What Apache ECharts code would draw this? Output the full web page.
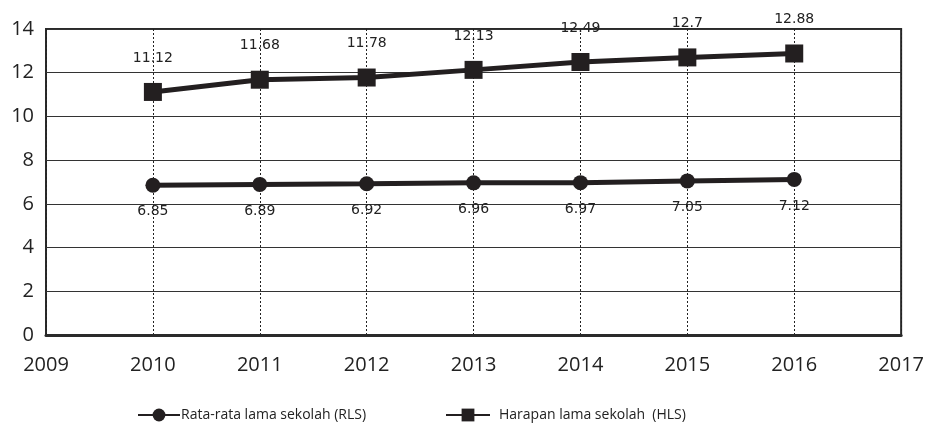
<!DOCTYPE html>
<html><head><meta charset="utf-8">
<script src="https://cdn.jsdelivr.net/npm/echarts@6/dist/echarts.min.js"></script>
<style>html,body{margin:0;padding:0;background:#fff}#c{width:927px;height:434px}</style>
</head><body><div id="c"></div>
<script>
const years = [2010, 2011, 2012, 2013, 2014, 2015, 2016];
const rls = [6.85, 6.89, 6.92, 6.96, 6.97, 7.05, 7.12];
const hls = [11.12, 11.68, 11.78, 12.13, 12.49, 12.7, 12.88];
const rlsName = 'Rata-rata lama sekolah (RLS)';
const hlsName = 'Harapan lama sekolah  (HLS)';

const chart = echarts.init(document.getElementById('c'));
chart.setOption({
  backgroundColor: '#fff',
  animation: false,
  grid: {left: 46, right: 22, top: 29, bottom: 99, show: true, borderColor: '#2a2a2a', borderWidth: 2},
  xAxis: {
    type: 'value', min: 2009, max: 2017, interval: 1,
    axisLine: {show: true, lineStyle: {color: '#2a2a2a', width: 3}},
    axisTick: {show: false},
    axisLabel: {fontFamily: 'Open Sans', fontSize: 20, color: '#222', margin: 20, formatter: v => String(v)},
    splitLine: {show: true, lineStyle: {color: '#222', type: [2, 2], width: 1}}
  },
  yAxis: {
    type: 'value', min: 0, max: 14, interval: 2,
    axisLine: {show: false}, axisTick: {show: false},
    axisLabel: {fontFamily: 'Open Sans', fontSize: 20, color: '#222', margin: 12},
    splitLine: {show: true, lineStyle: {color: '#333', width: 1.2}}
  },
  legend: [
    {left: 132, top: 403, itemWidth: 42, itemHeight: 16, itemGap: 0,
     textStyle: {fontFamily: 'Open Sans', fontSize: 14, color: '#222', padding: [0,0,0,-4]},
     data: [rlsName]},
    {left: 440, top: 403, itemWidth: 44, itemHeight: 16, itemGap: 0,
     textStyle: {fontFamily: 'Open Sans', fontSize: 14, color: '#222', padding: [0,0,0,4]},
     data: [hlsName]}
  ],
  series: [
    {
      name: rlsName, type: 'line',
      data: years.map((y, i) => [y, rls[i]]),
      symbol: 'circle', symbolSize: 15,
      lineStyle: {color: '#231f20', width: 5},
      itemStyle: {color: '#231f20'},
      label: {show: true, position: 'bottom', distance: 12, fontFamily: 'DejaVu Sans', fontSize: 14, color: '#222'}
    },
    {
      name: hlsName, type: 'line',
      data: years.map((y, i) => [y, hls[i]]),
      symbol: 'rect', symbolSize: 18,
      lineStyle: {color: '#231f20', width: 5},
      itemStyle: {color: '#231f20'},
      label: {show: true, position: 'top', distance: 18, fontFamily: 'DejaVu Sans', fontSize: 14, color: '#222'}
    }
  ]
});
</script></body></html>
